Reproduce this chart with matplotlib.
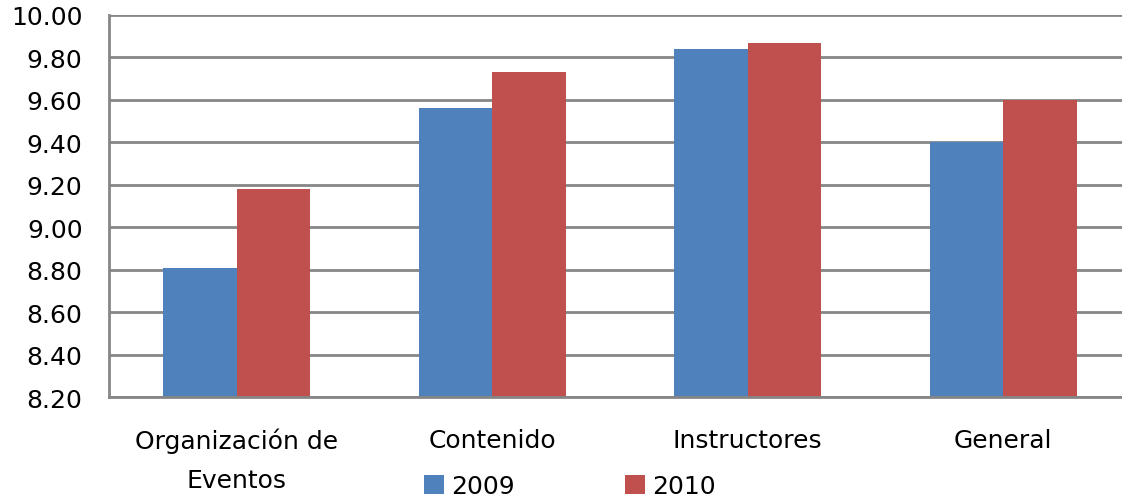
import matplotlib
matplotlib.use("Agg")
import matplotlib.pyplot as plt
import numpy as np

categories = ["Organización de\nEventos", "Contenido", "Instructores", "General"]
years = ["2009", "2010"]
values_2009 = [8.81, 9.56, 9.84, 9.40]
values_2010 = [9.18, 9.73, 9.87, 9.60]
yticks = [8.20, 8.40, 8.60, 8.80, 9.00, 9.20, 9.40, 9.60, 9.80, 10.00]

blue = "#4F81BD"
red = "#C0504D"
grid_gray = "#868686"

W, H = 1122, 502
fig = plt.figure(figsize=(W / 100, H / 100), dpi=100)
left_px, right_px, top_px, bottom_px = 109, 1131, 16, 398.3
ax = fig.add_axes([left_px / W, 1 - bottom_px / H,
                   (right_px - left_px) / W, (bottom_px - top_px) / H])

x = np.arange(len(categories))
bw = 0.287
ax.bar(x - bw / 2, np.array(values_2009) - yticks[0], bw, bottom=yticks[0],
       color=blue, label=years[0], zorder=3)
ax.bar(x + bw / 2, np.array(values_2010) - yticks[0], bw, bottom=yticks[0],
       color=red, label=years[1], zorder=3)

ax.set_xlim(-0.5, len(categories) - 0.5)
ax.set_ylim(yticks[0], yticks[-1])
ax.set_yticks(yticks)
ax.set_yticklabels([f"{v:.2f}" for v in yticks])
ax.set_xticks(x)
ax.set_xticklabels(categories, linespacing=1.75)

ax.yaxis.grid(True, color=grid_gray, linewidth=2, zorder=0)
ax.set_axisbelow(True)
for side in ["top", "right"]:
    ax.spines[side].set_visible(False)
for side in ["left", "bottom"]:
    ax.spines[side].set_color(grid_gray)
    ax.spines[side].set_linewidth(2)
    ax.spines[side].set_zorder(4)

ax.tick_params(axis="y", length=0, pad=19, labelsize=18, labelcolor="black")
ax.tick_params(axis="x", length=0, pad=22, labelsize=18, labelcolor="black")

fig.legend(loc="center", bbox_to_anchor=(570 / W, 1 - 487 / H), ncol=2,
           frameon=False, fontsize=18, handlelength=0.8, handleheight=0.8,
           handletextpad=0.3, columnspacing=4.4, borderpad=0, borderaxespad=0)

fig.savefig("out.png", dpi=100)
